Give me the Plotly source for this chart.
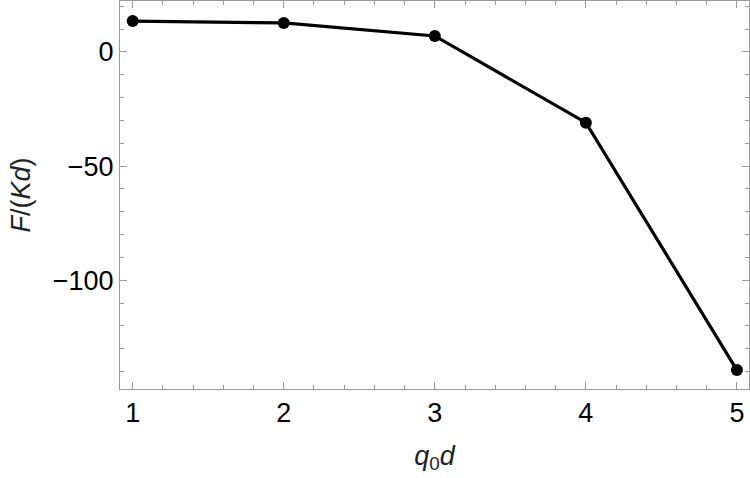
import plotly.graph_objects as go

q0d = [1, 2, 3, 4, 5]
F_Kd = [13.5, 12.7, 7.0, -31.0, -139.3]
x_ticks = [1, 2, 3, 4, 5]
y_ticks = [0, -50, -100]
y_tick_text = ["0", "\u221250", "\u2212100"]

FONT = "Liberation Sans, Arial"

fig = go.Figure()
fig.add_trace(go.Scatter(
    x=q0d, y=F_Kd, mode="lines+markers",
    line=dict(color="black", width=3.2),
    marker=dict(color="black", size=12),
    cliponaxis=False,
))

axis_common = dict(
    showgrid=False, zeroline=False,
    showline=True, linecolor="#9a9a9a", linewidth=1, mirror="allticks",
    ticks="inside", ticklen=7, tickcolor="#9a9a9a", tickwidth=1,
    tickfont=dict(family=FONT, size=27, color="black"),
)

fig.update_xaxes(
    range=[0.916, 5.08], tickvals=x_ticks,
    minor=dict(dtick=0.2, ticks="inside", ticklen=4, tickcolor="#9a9a9a", tickwidth=1),
    title=dict(text="<i>q</i><sub>0</sub><i>d</i>", font=dict(family=FONT, size=27, color="#222"), standoff=18),
    **axis_common,
)
fig.update_yaxes(
    range=[-147.6, 22.3], tickvals=y_ticks, ticktext=y_tick_text,
    minor=dict(tick0=0, dtick=10, ticks="inside", ticklen=4, tickcolor="#9a9a9a", tickwidth=1),
    title=dict(text="<i>F</i>/(<i>K</i><i>d</i>)", font=dict(family=FONT, size=27, color="#222"), standoff=14),
    **axis_common,
)

fig.update_layout(
    width=750, height=478,
    margin=dict(l=120, r=1, t=1, b=89),
    paper_bgcolor="white", plot_bgcolor="white",
    showlegend=False,
)

fig.write_html("out.html")
